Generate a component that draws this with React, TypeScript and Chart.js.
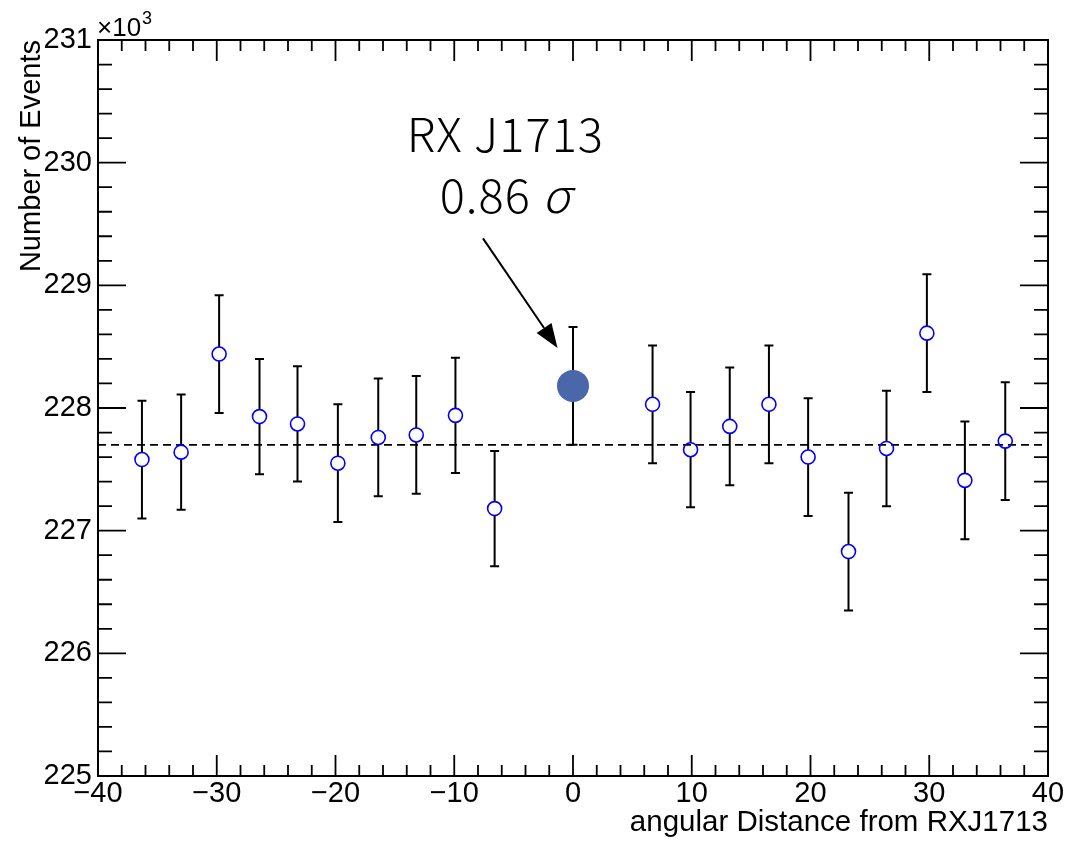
import React, { useEffect, useRef } from "react";
import { Chart, registerables } from "chart.js";

Chart.register(...registerables);

// ---- data ----
const angles = [-36.3, -33.0, -29.8, -26.4, -23.2, -19.8, -16.4, -13.2, -9.9, -6.6, 6.7, 9.9, 13.2, 16.5, 19.8, 23.2, 26.4, 29.8, 33.0, 36.4];
const counts = [227.58, 227.64, 228.44, 227.93, 227.87, 227.55, 227.76, 227.78, 227.94, 227.18, 228.03, 227.66, 227.85, 228.03, 227.60, 226.83, 227.67, 228.61, 227.41, 227.73];
const countErrors = [0.48, 0.47, 0.48, 0.47, 0.47, 0.48, 0.48, 0.48, 0.47, 0.47, 0.48, 0.47, 0.48, 0.48, 0.48, 0.48, 0.47, 0.48, 0.48, 0.48];
const sourceAngles = [0];
const sourceCounts = [228.18];
const sourceErrors = [0.48];
const baselineAngles = [-40, 40];
const baselineCounts = [227.7, 227.7];

const xRange = [-40, 40];
const yRange = [225, 231];
const xMajorStep = 10;
const xMinorStep = 2;
const yMajorStep = 1;
const yMinorStep = 0.2;

const xTitle = "angular Distance from RXJ1713";
const yTitle = "Number of Events";
const yExponent = "3";
const annotationLine1 = "RX J1713";
const annotationLine2 = "0.86";
const annotationSymbol = "σ";

const TICK_FONT = "'Liberation Sans', Arial, sans-serif";
const NOTE_FONT = "'Noto Sans CJK JP', 'Noto Sans', sans-serif";

const rootStylePlugin = {
  id: "rootStyle",
  beforeDatasetsDraw(chart: any) {
    const ctx = chart.ctx;
    const xs = chart.scales.x;
    const ys = chart.scales.y;
    ctx.save();
    ctx.strokeStyle = "#000";
    ctx.lineWidth = 2;
    const cap = 4.5;
    const drawBar = (x: number, y: number, e: number, gap: number) => {
      const px = xs.getPixelForValue(x);
      const py = ys.getPixelForValue(y);
      const pt = ys.getPixelForValue(y + e);
      const pb = ys.getPixelForValue(y - e);
      ctx.beginPath();
      ctx.moveTo(px, pt);
      ctx.lineTo(px, py - gap);
      ctx.moveTo(px, py + gap);
      ctx.lineTo(px, pb);
      ctx.moveTo(px - cap, pt);
      ctx.lineTo(px + cap, pt);
      ctx.moveTo(px - cap, pb);
      ctx.lineTo(px + cap, pb);
      ctx.stroke();
    };
    angles.forEach((a, i) => drawBar(a, counts[i], countErrors[i], 7));
    sourceAngles.forEach((a, i) => drawBar(a, sourceCounts[i], sourceErrors[i], 0));
    ctx.restore();
  },
  afterDraw(chart: any) {
    const ctx = chart.ctx;
    const xs = chart.scales.x;
    const ys = chart.scales.y;
    const { left, right, top, bottom } = chart.chartArea;
    ctx.save();
    ctx.strokeStyle = "#000";
    ctx.lineWidth = 1.8;
    ctx.beginPath();
    // x ticks (bottom and top)
    const nx = Math.round((xRange[1] - xRange[0]) / xMinorStep);
    for (let i = 0; i <= nx; i++) {
      const v = xRange[0] + i * xMinorStep;
      const px = xs.getPixelForValue(v);
      const major = Math.abs(v / xMajorStep - Math.round(v / xMajorStep)) < 1e-6;
      const len = major ? 21 : 11;
      ctx.moveTo(px, bottom);
      ctx.lineTo(px, bottom - len);
      ctx.moveTo(px, top);
      ctx.lineTo(px, top + len);
    }
    // y ticks (left and right)
    const ny = Math.round((yRange[1] - yRange[0]) / yMinorStep);
    for (let i = 0; i <= ny; i++) {
      const v = yRange[0] + i * yMinorStep;
      const py = ys.getPixelForValue(v);
      const major = Math.abs((v - yRange[0]) / yMajorStep - Math.round((v - yRange[0]) / yMajorStep)) < 1e-6;
      const len = major ? 28 : 14;
      ctx.moveTo(left, py);
      ctx.lineTo(left + len, py);
      ctx.moveTo(right, py);
      ctx.lineTo(right - len, py);
    }
    ctx.stroke();
    // frame
    ctx.lineWidth = 2;
    ctx.strokeRect(left, top, right - left, bottom - top);

    // x10^3 multiplier
    ctx.fillStyle = "#000";
    ctx.textBaseline = "alphabetic";
    ctx.textAlign = "left";
    ctx.font = `26px ${TICK_FONT}`;
    const mx = left - 1;
    const my = top - 4;
    ctx.fillText("\u00d710", mx, my);
    const w10 = ctx.measureText("\u00d710").width;
    ctx.font = `18px ${TICK_FONT}`;
    ctx.fillText(yExponent, mx + w10 + 1, my - 12);

    // annotation text
    (ctx as any).letterSpacing = "1px";
    const cx = xs.getPixelForValue(-5.7);
    const fNorm = `300 47px ${NOTE_FONT}`;
    const fItal = `italic 300 47px ${NOTE_FONT}`;
    ctx.font = fNorm;
    ctx.textAlign = "center";
    ctx.fillText(annotationLine1, cx, ys.getPixelForValue(230.083));
    const l2 = annotationLine2 + " ";
    const w2 = ctx.measureText(l2).width;
    ctx.font = fItal;
    const ws = ctx.measureText(annotationSymbol).width;
    const start = cx - (w2 + ws) / 2;
    const by = ys.getPixelForValue(229.587);
    ctx.textAlign = "left";
    ctx.font = fNorm;
    ctx.fillText(l2, start, by);
    ctx.font = fItal;
    ctx.fillText(annotationSymbol, start + w2, by);
    (ctx as any).letterSpacing = "0px";

    // arrow
    const x1 = xs.getPixelForValue(-7.58);
    const y1 = ys.getPixelForValue(229.383);
    const x2 = xs.getPixelForValue(-1.3);
    const y2 = ys.getPixelForValue(228.49);
    const ang = Math.atan2(y2 - y1, x2 - x1);
    const hl = 24;
    const hw = 9;
    const bx = x2 - hl * Math.cos(ang);
    const byy = y2 - hl * Math.sin(ang);
    ctx.lineWidth = 2;
    ctx.beginPath();
    ctx.moveTo(x1, y1);
    ctx.lineTo(bx, byy);
    ctx.stroke();
    ctx.beginPath();
    ctx.moveTo(x2, y2);
    ctx.lineTo(bx + hw * Math.sin(ang), byy - hw * Math.cos(ang));
    ctx.lineTo(bx - hw * Math.sin(ang), byy + hw * Math.cos(ang));
    ctx.closePath();
    ctx.fill();
    ctx.restore();
  },
};

export default function App() {
  const canvasRef = useRef<HTMLCanvasElement | null>(null);

  useEffect(() => {
    if (!canvasRef.current) return;
    const chart = new Chart(canvasRef.current, {
      type: "scatter",
      data: {
        datasets: [
          {
            label: "source",
            data: sourceAngles.map((a, i) => ({ x: a, y: sourceCounts[i] })),
            pointRadius: 16,
            pointStyle: "circle",
            backgroundColor: "#4a67aa",
            borderColor: "#4a67aa",
            borderWidth: 0,
            order: 0,
          },
          {
            label: "events",
            data: angles.map((a, i) => ({ x: a, y: counts[i] })),
            pointRadius: 7,
            pointStyle: "circle",
            backgroundColor: "rgba(0,0,0,0)",
            borderColor: "#0000ff",
            borderWidth: 1.6,
            order: 1,
          },
          {
            label: "baseline",
            data: baselineAngles.map((a, i) => ({ x: a, y: baselineCounts[i] })),
            showLine: true,
            pointRadius: 0,
            borderColor: "#000",
            borderWidth: 1.8,
            borderDash: [8, 5],
            order: 2,
          },
        ],
      },
      options: {
        animation: false,
        responsive: false,
        devicePixelRatio: 1,
        events: [],
        layout: { padding: { top: 40, right: 18, left: 0, bottom: 0 } },
        plugins: { legend: { display: false }, tooltip: { enabled: false } },
        scales: {
          x: {
            type: "linear",
            min: xRange[0],
            max: xRange[1],
            grid: { display: false, drawTicks: false },
            border: { display: false },
            ticks: {
              stepSize: xMajorStep,
              color: "#000",
              padding: 1,
              font: { family: TICK_FONT, size: 29 },
              callback: (v: any) => String(v).replace("-", "\u2212"),
            },
            title: {
              display: true,
              text: xTitle,
              align: "end",
              color: "#000",
              font: { family: TICK_FONT, size: 29.5 },
              padding: { top: 0, bottom: 1 },
            },
            afterFit: (s: any) => {
              s.height = 66;
            },
          },
          y: {
            type: "linear",
            min: yRange[0],
            max: yRange[1],
            grid: { display: false, drawTicks: false },
            border: { display: false },
            ticks: {
              stepSize: yMajorStep,
              color: "#000",
              padding: 6,
              font: { family: TICK_FONT, size: 29 },
              callback: (v: any) => String(v),
            },
            title: {
              display: true,
              text: yTitle,
              align: "end",
              color: "#000",
              font: { family: TICK_FONT, size: 29 },
              padding: { top: 15, bottom: 0 },
            },
            afterFit: (s: any) => {
              s.width = 98;
            },
          },
        },
      },
      plugins: [rootStylePlugin],
    } as any);
    return () => chart.destroy();
  }, []);

  return (
    <div style={{ position: "absolute", left: 0, top: 0, width: 1066, height: 842, background: "#fff" }}>
      <canvas ref={canvasRef} width={1066} height={842} style={{ display: "block" }} />
    </div>
  );
}
